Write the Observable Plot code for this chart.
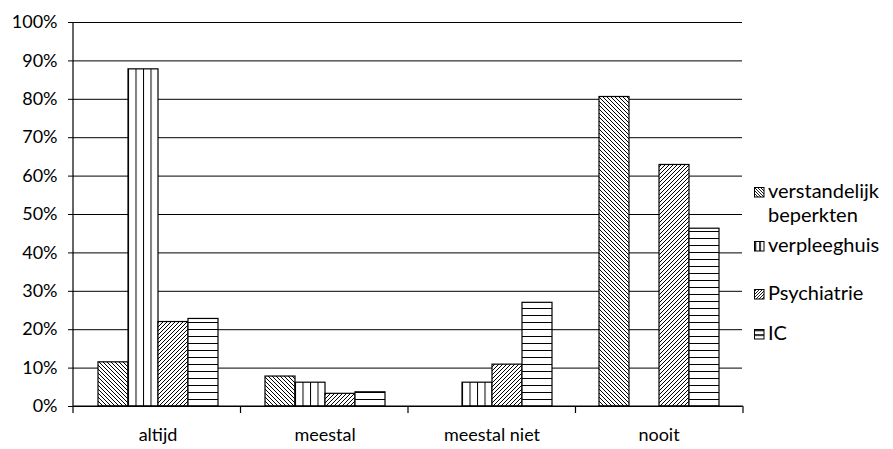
<!DOCTYPE html>
<html><head><meta charset="utf-8">
<script src="https://cdn.jsdelivr.net/npm/d3@7"></script>
<script src="https://cdn.jsdelivr.net/npm/@observablehq/plot@0.6"></script>
<style>
body{margin:0;background:#fff;}
#wrap{position:relative;width:893px;height:449px;font-family:Lato,sans-serif;overflow:hidden;}
.leg{position:absolute;left:754px;font-size:20px;line-height:24px;color:#000;}
.leg svg{position:absolute;left:0;}
.leg .t{position:absolute;left:14px;top:0;white-space:nowrap;}
</style></head><body><div id="wrap"></div>
<script>
// ---- data ----
const categories = ["altijd", "meestal", "meestal niet", "nooit"];
const seriesNames = ["verstandelijk beperkten", "verpleeghuis", "Psychiatrie", "IC"];
const verstandelijkBeperkten = [11.5, 7.8, 0, 80.6];
const verpleeghuis = [87.8, 6.2, 6.2, 0];
const psychiatrie = [22.0, 3.3, 10.9, 62.9];
const ic = [22.8, 3.7, 27.0, 46.3];
const yTicks = [0, 10, 20, 30, 40, 50, 60, 70, 80, 90, 100];
const legendLines = [["verstandelijk", "beperkten"], ["verpleeghuis"], ["Psychiatrie"], ["IC"]];

const seriesValues = [verstandelijkBeperkten, verpleeghuis, psychiatrie, ic];
const patternIds = ["p-back", "p-vert", "p-fwd", "p-hor"];

function rows(k) {
  return categories.map((c, i) => ({category: c, series: seriesNames[k], value: seriesValues[k][i]}))
    .filter(d => d.value > 0);
}

const plot = Plot.plot({
  width: 893, height: 449,
  marginLeft: 73, marginRight: 150, marginTop: 22, marginBottom: 43,
  style: {fontFamily: "Lato, sans-serif", fontSize: "18px", color: "#000", background: "#fff", overflow: "visible"},
  fx: {domain: categories, paddingInner: 0, paddingOuter: 0, label: null, tickSize: 0, tickPadding: 22, axis: "bottom"},
  x: {domain: seriesNames, paddingInner: 0, paddingOuter: 0.77, axis: null},
  y: {domain: [0, 100], ticks: yTicks, tickFormat: d => d + "%", tickSize: 6, tickPadding: 11, label: null},
  marks: [
    Plot.ruleY(yTicks, {stroke: "#000", strokeWidth: 1}),
    ...seriesValues.map((_, k) => Plot.barY(rows(k), {
      fx: "category", x: "series", y: "value",
      fill: "url(#" + patternIds[k] + ")", stroke: "#000", strokeWidth: 1.2
    }))
  ]
});

const svg = d3.select(plot);
const ys = plot.scale("y");
const fxs = plot.scale("fx");
const y0 = ys.range[0], y1 = ys.range[1];
const band = d3.scaleBand().domain(fxs.domain).range(fxs.range)
  .paddingInner(fxs.paddingInner || 0).paddingOuter(fxs.paddingOuter || 0);

svg.insert("defs", ":first-child").html(`
<pattern id="p-back" patternUnits="userSpaceOnUse" width="4" height="4">
  <rect width="4" height="4" fill="#fff"/>
  <path d="M-1,-1L5,5M3,-1L5,1M-1,3L1,5" stroke="#000" stroke-width="1"/>
</pattern>
<pattern id="p-fwd" patternUnits="userSpaceOnUse" width="4" height="4">
  <rect width="4" height="4" fill="#fff"/>
  <path d="M-1,5L5,-1M-1,1L1,-1M3,5L5,3" stroke="#000" stroke-width="1"/>
</pattern>
<pattern id="p-vert" patternUnits="objectBoundingBox" width="0.25" height="1">
  <rect width="100" height="1000" fill="#fff"/>
  <rect x="-1" width="2" height="1000" fill="#000"/>
</pattern>
<pattern id="p-hor" patternUnits="userSpaceOnUse" width="10" height="7" y="${y0}">
  <rect width="10" height="7" fill="#fff"/>
  <rect y="-1" width="10" height="2" fill="#000"/>
</pattern>`);

// axis lines and category boundary ticks
const g = svg.append("g").attr("stroke", "#000").attr("stroke-width", 1.2).attr("fill", "none");
g.append("line").attr("x1", fxs.range[0]).attr("x2", fxs.range[0]).attr("y1", y1).attr("y2", y0);
g.append("line").attr("x1", fxs.range[0]).attr("x2", fxs.range[1]).attr("y1", y0).attr("y2", y0);
const bounds = categories.map(c => band(c)).concat([band(categories[categories.length - 1]) + band.bandwidth()]);
bounds.forEach(b => g.append("line").attr("x1", b).attr("x2", b).attr("y1", y0).attr("y2", y0 + 7));

const wrap = document.getElementById("wrap");
wrap.appendChild(plot);

// ---- legend ----
const legendTops = [178, 232, 280, 320];
const swatchDefs = `
<defs>
<pattern id="s-back" patternUnits="userSpaceOnUse" width="3" height="3"><rect width="3" height="3" fill="#fff"/><path d="M-1,-1L4,4M2,-1L4,1M-1,2L1,4" stroke="#000" stroke-width="0.9"/></pattern>
<pattern id="s-fwd" patternUnits="userSpaceOnUse" width="3" height="3"><rect width="3" height="3" fill="#fff"/><path d="M-1,4L4,-1M-1,1L1,-1M2,4L4,2" stroke="#000" stroke-width="0.9"/></pattern>
<pattern id="s-vert" patternUnits="objectBoundingBox" width="0.5" height="1"><rect width="20" height="20" fill="#fff"/><rect x="0" width="1.6" height="20" fill="#000"/></pattern>
<pattern id="s-hor" patternUnits="objectBoundingBox" width="1" height="0.5"><rect width="20" height="20" fill="#fff"/><rect y="0" width="20" height="1.6" fill="#000"/></pattern>
</defs>`;
const swatchIds = ["s-back", "s-vert", "s-fwd", "s-hor"];
legendLines.forEach((lines, k) => {
  const div = document.createElement("div");
  div.className = "leg";
  div.style.top = legendTops[k] + "px";
  div.innerHTML = `<svg width="11" height="11" style="top:9px">${swatchDefs.replace(/id="s-/g, 'id="s' + k + '-')}
    <rect x="0.5" y="0.5" width="9.5" height="9.5" fill="url(#s${k}-${swatchIds[k].slice(2)})" stroke="#000" stroke-width="1"/></svg>`;
  const t = document.createElement("div");
  t.className = "t";
  t.innerHTML = lines.map(s => `<div>${s}</div>`).join("");
  div.appendChild(t);
  wrap.appendChild(div);
});
</script>
</body></html>
